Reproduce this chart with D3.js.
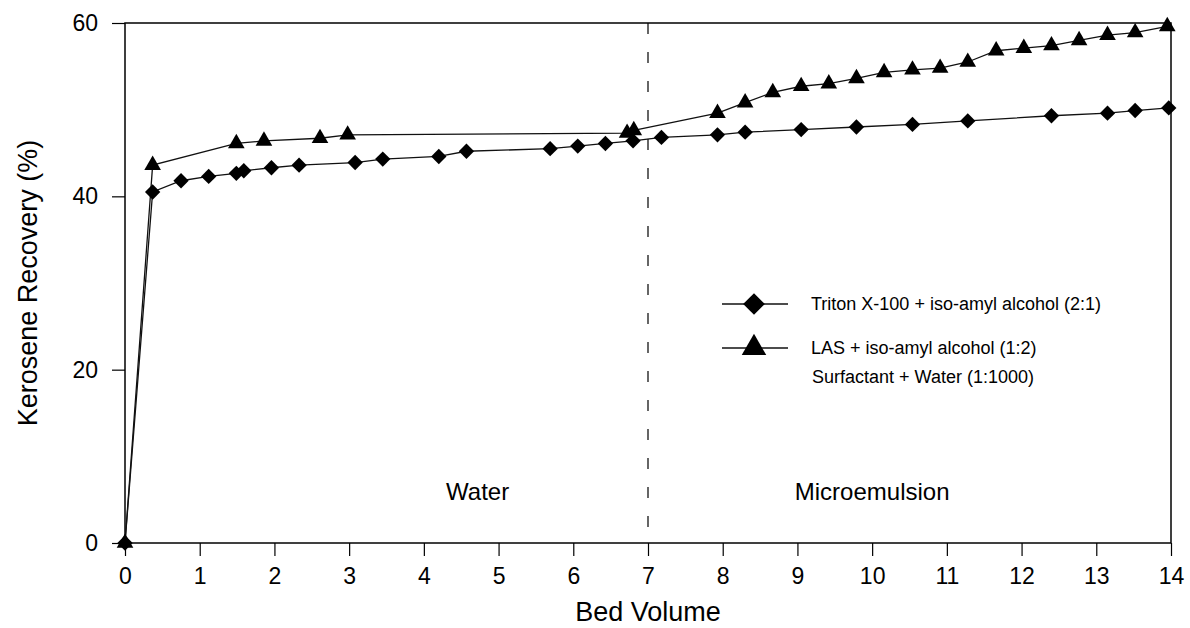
<!DOCTYPE html>
<html>
<head>
<meta charset="utf-8">
<script src="https://cdn.jsdelivr.net/npm/d3@7"></script>
<style>
  body { margin: 0; background: #fff; }
  text { font-family: Arial, "Liberation Sans", sans-serif; fill: #000; }
</style>
</head>
<body>
<svg id="chart" width="1190" height="628"></svg>
<script>
// Triton X-100 + iso-amyl alcohol (2:1) -- diamonds
var tritonX = [0, 0.37, 0.75, 1.12, 1.49, 1.59, 1.96, 2.33, 3.08, 3.45, 4.20, 4.57, 5.69, 6.06, 6.43, 6.80, 7.18, 7.93, 8.30, 9.05, 9.79, 10.54, 11.28, 12.40, 13.15, 13.52, 13.97];
var tritonY = [0, 40.5, 41.8, 42.3, 42.65, 42.95, 43.3, 43.6, 43.9, 44.3, 44.6, 45.2, 45.5, 45.8, 46.1, 46.4, 46.8, 47.1, 47.4, 47.7, 48.0, 48.3, 48.7, 49.3, 49.6, 49.9, 50.2];

// LAS + iso-amyl alcohol (1:2) -- triangles
var lasX = [0, 0.37, 1.49, 1.86, 2.61, 2.98, 6.72, 6.81, 7.93, 8.30, 8.67, 9.05, 9.42, 9.79, 10.16, 10.54, 10.91, 11.28, 11.66, 12.03, 12.40, 12.77, 13.15, 13.52, 13.95];
var lasY = [0, 43.6, 46.1, 46.4, 46.7, 47.1, 47.3, 47.6, 49.6, 50.8, 52.0, 52.7, 53.0, 53.6, 54.3, 54.6, 54.8, 55.5, 56.8, 57.1, 57.4, 58.0, 58.6, 58.9, 59.6];

var xTicks = [0, 1, 2, 3, 4, 5, 6, 7, 8, 9, 10, 11, 12, 13, 14];
var yTicks = [0, 20, 40, 60];
var legendLabels = ["Triton X-100 + iso-amyl alcohol (2:1)", "LAS + iso-amyl alcohol (1:2)"];
var legendNote = "Surfactant + Water (1:1000)";
var phaseLabels = [{ x: 4.72, text: "Water" }, { x: 10.0, text: "Microemulsion" }];
var phaseSwitch = 7;

var svg = d3.select("#chart");
var mLeft = 125, mRight = 1171, mTop = 23, mBottom = 543;

var x = d3.scaleLinear().domain([0, 14]).range([mLeft, mRight]);
var y = d3.scaleLinear().domain([0, 60]).range([mBottom, mTop]);

// box
svg.append("rect")
    .attr("x", mLeft).attr("y", mTop)
    .attr("width", mRight - mLeft).attr("height", mBottom - mTop)
    .attr("fill", "none").attr("stroke", "#000").attr("stroke-width", 1.5);

// x axis: major + minor ticks
var xAxis = svg.append("g").attr("transform", "translate(0," + mBottom + ")");
xAxis.call(d3.axisBottom(x).tickValues(d3.range(0.5, 14, 1)).tickSize(7).tickFormat(""));
xAxis.call(d3.axisBottom(x).tickValues(xTicks).tickSize(13).tickPadding(12).tickFormat(d3.format("d")));
xAxis.selectAll(".domain").remove();
xAxis.selectAll("line").attr("stroke", "#000").attr("stroke-width", 1.2);
xAxis.selectAll("text").style("font-size", "23px").style("font-family", "Arial, 'Liberation Sans', sans-serif");

// y axis
var yAxis = svg.append("g").attr("transform", "translate(" + mLeft + ",0)");
yAxis.call(d3.axisLeft(y).tickValues([10, 30, 50]).tickSize(7).tickFormat(""));
yAxis.call(d3.axisLeft(y).tickValues(yTicks).tickSize(13).tickPadding(14).tickFormat(d3.format("d")));
yAxis.selectAll(".domain").remove();
yAxis.selectAll("line").attr("stroke", "#000").attr("stroke-width", 1.2);
yAxis.selectAll("text").style("font-size", "23px").style("font-family", "Arial, 'Liberation Sans', sans-serif");

// axis titles
svg.append("text")
    .attr("x", x(7)).attr("y", 621)
    .attr("text-anchor", "middle")
    .style("font-size", "27px")
    .text("Bed Volume");

svg.append("text")
    .attr("transform", "translate(37," + ((mTop + mBottom) / 2) + ") rotate(-90)")
    .attr("text-anchor", "middle")
    .style("font-size", "27px")
    .text("Kerosene Recovery (%)");

// phase divider
svg.append("line")
    .attr("x1", x(phaseSwitch)).attr("x2", x(phaseSwitch))
    .attr("y1", mTop).attr("y2", mBottom)
    .attr("stroke", "#000").attr("stroke-width", 1.2)
    .style("stroke-dasharray", "11, 18");

svg.selectAll(".phase")
    .data(phaseLabels)
    .join("text")
    .attr("class", "phase")
    .attr("x", function(d) { return x(d.x); })
    .attr("y", 500)
    .attr("text-anchor", "middle")
    .style("font-size", "24px")
    .text(function(d) { return d.text; });

var line = d3.line()
    .x(function(d) { return x(d[0]); })
    .y(function(d) { return y(d[1]); });

var triton = tritonX.map(function(v, i) { return [v, tritonY[i]]; });
var las = lasX.map(function(v, i) { return [v, lasY[i]]; });

var diamond = d3.symbol().type(d3.symbolDiamond2).size(150);
var triangle = d3.symbol().type(d3.symbolTriangle).size(120);

svg.append("path")
    .datum(las)
    .attr("d", line)
    .attr("fill", "none").attr("stroke", "#111").attr("stroke-width", 1.3);

svg.append("path")
    .datum(triton)
    .attr("d", line)
    .attr("fill", "none").attr("stroke", "#111").attr("stroke-width", 1.3);

svg.selectAll(".tri")
    .data(las)
    .join("path")
    .attr("class", "tri")
    .attr("d", triangle)
    .attr("transform", function(d) { return "translate(" + x(d[0]) + "," + y(d[1]) + ")"; })
    .attr("fill", "#000");

svg.selectAll(".dia")
    .data(triton)
    .join("path")
    .attr("class", "dia")
    .attr("d", diamond)
    .attr("transform", function(d) { return "translate(" + x(d[0]) + "," + y(d[1]) + ")"; })
    .attr("fill", "#000");

// legend
var legend = svg.append("g");
var legendSyms = [d3.symbol().type(d3.symbolDiamond2).size(300), d3.symbol().type(d3.symbolTriangle).size(260)];
legendLabels.forEach(function(label, i) {
    var ly = 304 + i * 44;
    legend.append("line")
        .attr("x1", 722).attr("x2", 788)
        .attr("y1", ly).attr("y2", ly)
        .attr("stroke", "#111").attr("stroke-width", 1.3);
    legend.append("path")
        .attr("d", legendSyms[i])
        .attr("transform", "translate(754," + ly + ")")
        .attr("fill", "#000");
    legend.append("text")
        .attr("x", 811).attr("y", ly)
        .attr("dy", "0.35em")
        .style("font-size", "18px")
        .text(label);
});
legend.append("text")
    .attr("x", 812).attr("y", 377)
    .attr("dy", "0.35em")
    .style("font-size", "18px")
    .text(legendNote);
</script>
</body>
</html>
